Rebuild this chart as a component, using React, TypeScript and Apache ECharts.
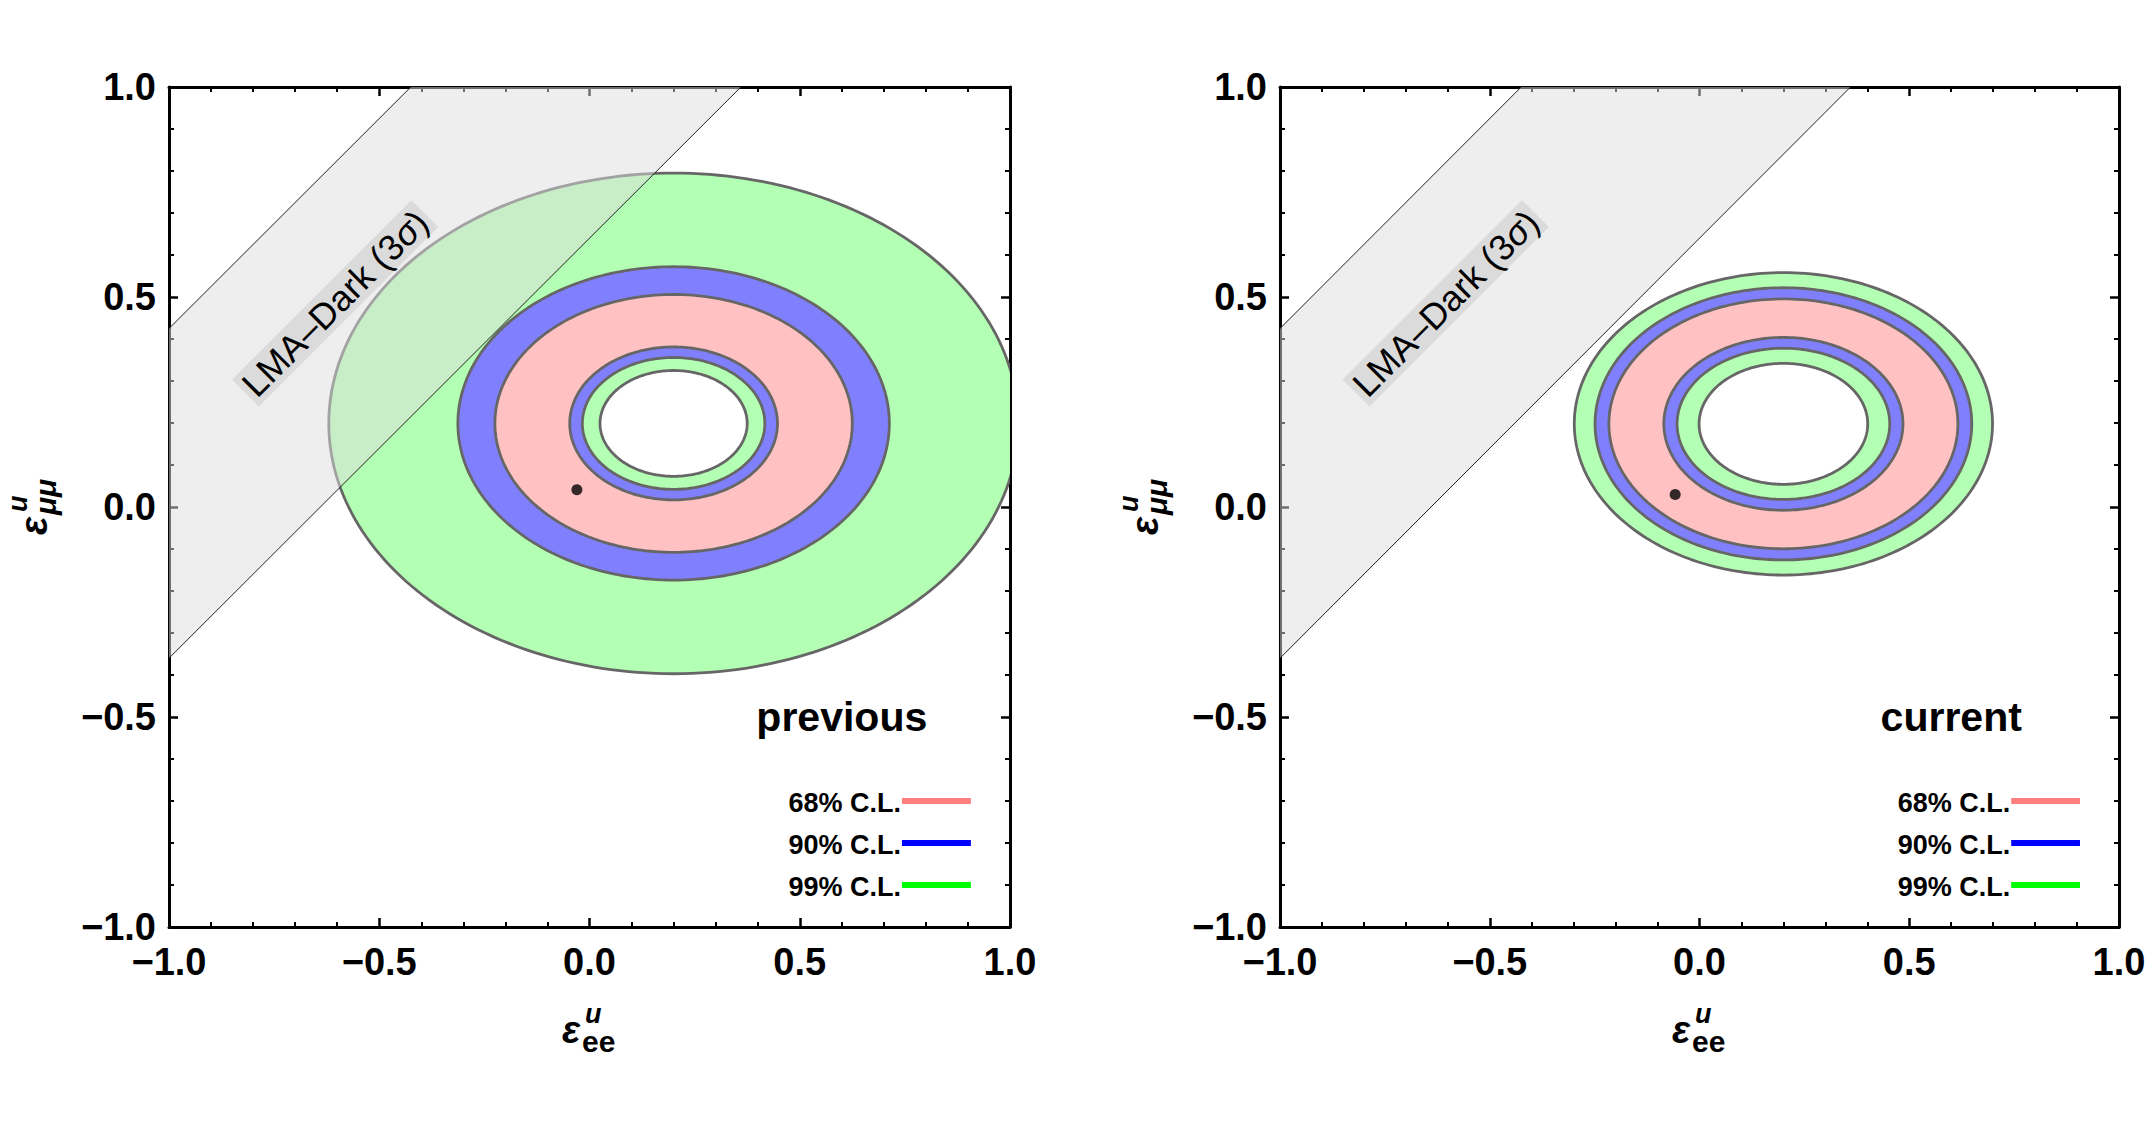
import React, { useEffect, useRef } from "react";
import * as echarts from "echarts";

// ---- data ----
const axisTicks = [-1, -0.5, 0, 0.5, 1];
const ringKinds = ["green", "blue", "pink", "blue", "green", "hole"]; // outermost -> innermost
const prevCenter = [0.2, 0.199];
const prevSemiX = [0.82, 0.513, 0.425, 0.247, 0.217, 0.175];
const prevSemiY = [0.596, 0.373, 0.307, 0.182, 0.157, 0.126];
const currCenter = [0.2, 0.198];
const currSemiX = [0.4985, 0.449, 0.416, 0.285, 0.2535, 0.201];
const currSemiY = [0.36, 0.324, 0.2975, 0.2057, 0.18, 0.144];
const prevBestFit = [-0.03, 0.041];
const currBestFit = [-0.058, 0.03];
const lmaIntercepts = [1.425, 0.64]; // band edges: y = x + c
const lmaLabelPos = [-0.605, 0.485];
const panelTitles = ["previous", "current"];
const panelTitlePos = [0.6, -0.5];
const legendNames = ["68% C.L.", "90% C.L.", "99% C.L."];
const legendColors = ["#ff7f7f", "#0000ff", "#00ff00"];
const legendRowsY = [-0.7, -0.8, -0.9];
const legendLineX = [0.743, 0.907];

const FILLS: Record<string, string> = {
  green: "#b3ffb3",
  blue: "#8080ff",
  pink: "#ffc1c1",
  hole: "#ffffff",
};
const FONT = "'Liberation Sans', Arial, Helvetica, sans-serif";

const grids = [
  { left: 169, top: 87, width: 841, height: 840 },
  { left: 1280, top: 87, width: 839, height: 840 },
];

function ringData(center: number[], sx: number[], sy: number[]) {
  return sx.map((a, i) => [center[0], center[1], a, sy[i], i]);
}

function fmt(v: number) {
  return (v < 0 ? "\u2212" : "") + Math.abs(v).toFixed(1);
}

function makeAxis(gridIndex: number, dim: "x" | "y", main: boolean) {
  const base: any = {
    gridIndex,
    type: "value",
    min: axisTicks[0],
    max: axisTicks[axisTicks.length - 1],
    interval: 0.5,
    position: dim === "x" ? (main ? "bottom" : "top") : main ? "left" : "right",
    axisLine: { show: true, onZero: false, lineStyle: { color: "#000", width: 3 } },
    axisTick: { show: true, inside: true, length: 9, lineStyle: { color: "#000", width: 2.5 } },
    minorTick: { show: true, splitNumber: 5, length: 5, lineStyle: { color: "#000", width: 2 } },
    splitLine: { show: false },
    minorSplitLine: { show: false },
    axisLabel: {
      show: main,
      formatter: fmt,
      color: "#000",
      fontFamily: FONT,
      fontWeight: "bold",
      fontSize: 38,
      margin: dim === "x" ? 16 : 13,
      showMinLabel: true,
      showMaxLabel: true,
    },
  };
  return base;
}

function ellipseSeries(gi: number, data: number[][]) {
  return {
    type: "custom",
    xAxisIndex: gi * 2,
    yAxisIndex: gi * 2,
    clip: true,
    z: 2,
    silent: true,
    encode: { x: 0, y: 1 },
    data,
    renderItem: (params: any, api: any) => {
      const cx = api.value(0);
      const cy = api.value(1);
      const a = api.value(2);
      const b = api.value(3);
      const k = ringKinds[api.value(4)];
      const pts: number[][] = [];
      const N = 240;
      for (let i = 0; i < N; i++) {
        const t = (i / N) * Math.PI * 2;
        pts.push(api.coord([cx + a * Math.cos(t), cy + b * Math.sin(t)]));
      }
      return {
        type: "polygon",
        shape: { points: pts },
        style: { fill: FILLS[k], stroke: "#666666", lineWidth: 2.8 },
      };
    },
  };
}

function bandSeries(gi: number) {
  const [c1, c2] = lmaIntercepts;
  const poly = [
    [-1, c2 - 1],
    [-1, c1 - 1],
    [1 - c1, 1],
    [1 - c2, 1],
  ];
  return [
    {
      type: "custom",
      xAxisIndex: gi * 2,
      yAxisIndex: gi * 2,
      clip: true,
      z: 3,
      silent: true,
      data: [0],
      renderItem: (params: any, api: any) => ({
        type: "polygon",
        shape: { points: poly.map((p) => api.coord(p)) },
        style: { fill: "rgba(222,222,222,0.5)", stroke: "none" },
      }),
    },
    {
      type: "custom",
      xAxisIndex: gi * 2,
      yAxisIndex: gi * 2,
      clip: true,
      z: 4,
      silent: true,
      data: lmaIntercepts.map((c) => [c]),
      renderItem: (params: any, api: any) => {
        const c = api.value(0);
        const p1 = api.coord([-1, c - 1]);
        const p2 = api.coord([1 - c, 1]);
        return {
          type: "line",
          shape: { x1: p1[0], y1: p1[1], x2: p2[0], y2: p2[1] },
          style: { stroke: "#222", lineWidth: 1 },
        };
      },
    },
  ];
}

function dotSeries(gi: number, p: number[]) {
  return {
    type: "scatter",
    xAxisIndex: gi * 2,
    yAxisIndex: gi * 2,
    z: 6,
    silent: true,
    symbolSize: 11,
    itemStyle: { color: "#000" },
    data: [p],
  };
}

function axisTitle(x: number, y: number, rotation: number, sub: string, subItalic: boolean) {
  const epsFs = 38;
  const supFs = 27;
  const subFs = 30;
  const off = 0.3465;
  return {
    type: "group",
    x,
    y,
    rotation,
    z: 100,
    children: [
      {
        type: "text",
        x: 0,
        y: -off * epsFs,
        style: {
          text: "\u03b5",
          fill: "#000",
          fontFamily: FONT,
          fontWeight: "bold",
          fontStyle: "italic",
          fontSize: epsFs,
          align: "left",
          verticalAlign: "middle",
        },
      },
      {
        type: "text",
        x: 23,
        y: -20 - off * supFs,
        style: {
          text: "u",
          fill: "#000",
          fontFamily: FONT,
          fontWeight: "bold",
          fontStyle: "italic",
          fontSize: supFs,
          align: "left",
          verticalAlign: "middle",
        },
      },
      {
        type: "text",
        x: 20,
        y: 9 - off * subFs,
        style: {
          text: sub,
          fill: "#000",
          fontFamily: FONT,
          fontWeight: "bold",
          fontStyle: subItalic ? "italic" : "normal",
          fontSize: subFs,
          align: "left",
          verticalAlign: "middle",
        },
      },
    ],
  };
}

export default function App() {
  const ref = useRef<HTMLDivElement>(null);
  useEffect(() => {
    document.body.style.margin = "0";
    const chart = echarts.init(ref.current!, null, { renderer: "svg" });
    const option: any = {
      animation: false,
      backgroundColor: "#ffffff",
      grid: grids.map((g) => ({ ...g, containLabel: false })),
      xAxis: [makeAxis(0, "x", true), makeAxis(0, "x", false), makeAxis(1, "x", true), makeAxis(1, "x", false)],
      yAxis: [makeAxis(0, "y", true), makeAxis(0, "y", false), makeAxis(1, "y", true), makeAxis(1, "y", false)],
      series: [
        ellipseSeries(0, ringData(prevCenter, prevSemiX, prevSemiY)),
        ...bandSeries(0),
        dotSeries(0, prevBestFit),
        ellipseSeries(1, ringData(currCenter, currSemiX, currSemiY)),
        ...bandSeries(1),
        dotSeries(1, currBestFit),
      ],
    };
    chart.setOption(option);

    const graphics: any[] = [];
    [0, 1].forEach((gi) => {
      const px = (p: number[]) => chart.convertToPixel({ gridIndex: gi } as any, p) as number[];
      const lp = px(lmaLabelPos);
      graphics.push({
        type: "text",
        x: lp[0],
        y: lp[1],
        rotation: Math.PI / 4,
        z: 100,
        style: {
          text: "LMA\u2013Dark (3{s|\u03c3})",
          fill: "#000",
          fontFamily: FONT,
          fontSize: 36,
          align: "center",
          verticalAlign: "middle",
          backgroundColor: "rgba(195,195,195,0.45)",
          padding: [1, 4],
          rich: {
            s: { fontFamily: FONT, fontSize: 36, fontStyle: "italic", fill: "#000" },
          },
        },
      });
      const tp = px(panelTitlePos);
      graphics.push({
        type: "text",
        x: tp[0],
        y: tp[1],
        z: 100,
        style: {
          text: panelTitles[gi],
          fill: "#000",
          fontFamily: FONT,
          fontWeight: "bold",
          fontSize: 41,
          align: "center",
          verticalAlign: "middle",
        },
      });
      legendNames.forEach((name, i) => {
        const p1 = px([legendLineX[0], legendRowsY[i]]);
        const p2 = px([legendLineX[1], legendRowsY[i]]);
        graphics.push({
          type: "line",
          z: 100,
          shape: { x1: p1[0], y1: p1[1], x2: p2[0], y2: p2[1] },
          style: { stroke: legendColors[i], lineWidth: 6 },
        });
        graphics.push({
          type: "text",
          x: p1[0] - 1,
          y: p1[1] + 2,
          z: 100,
          style: {
            text: name,
            fill: "#000",
            fontFamily: FONT,
            fontWeight: "bold",
            fontSize: 27,
            align: "right",
            verticalAlign: "middle",
          },
        });
      });
      const g = grids[gi];
      const cxp = g.left + g.width / 2;
      const cyp = g.top + g.height / 2;
      graphics.push(axisTitle(cxp - 27.5, g.top + g.height + 116, 0, "ee", false));
      graphics.push(axisTitle(g.left - 122, cyp + 28, Math.PI / 2, "\u03bc\u03bc", true));
    });
    chart.setOption({ graphic: graphics });
    return () => chart.dispose();
  }, []);
  return <div ref={ref} style={{ width: 2153, height: 1125, overflow: "hidden" }} />;
}
